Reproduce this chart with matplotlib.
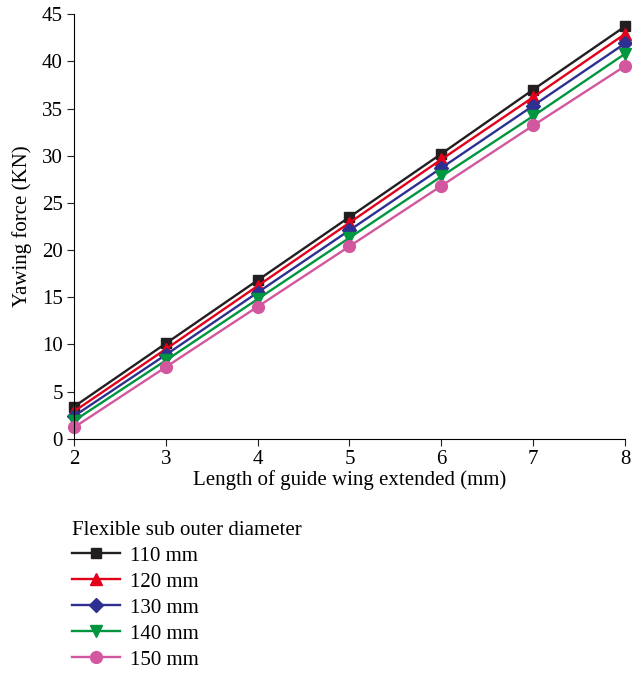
import matplotlib.pyplot as plt

plt.rcParams['font.family'] = ['Liberation Serif', 'DejaVu Serif']

lengths = [2, 3, 4, 5, 6, 7, 8]
force_110 = [3.4, 10.1, 16.8, 23.5, 30.2, 37.0, 43.7]
force_120 = [2.9, 9.5, 16.2, 22.9, 29.6, 36.2, 42.9]
force_130 = [2.4, 8.9, 15.5, 22.1, 28.7, 35.3, 41.9]
force_140 = [1.9, 8.3, 14.8, 21.3, 27.8, 34.2, 40.8]
force_150 = [1.2, 7.6, 14.0, 20.4, 26.8, 33.2, 39.5]
labels = ["110 mm", "120 mm", "130 mm", "140 mm", "150 mm"]

series = [force_110, force_120, force_130, force_140, force_150]
colors = ['#231f20', '#e3001b', '#2e3091', '#00963f', '#d2579e']
markers = ['s', '^', 'D', 'v', 'o']
msizes = [7.5, 8.5, 7, 8.5, 8.5]

fig = plt.figure(figsize=(6.32, 6.73), dpi=100)
ax = fig.add_axes([0.117, 0.348, 0.872, 0.631])

for ys, c, m, ms, lab in zip(series, colors, markers, msizes, labels):
    ax.plot(lengths, ys, color=c, marker=m, markersize=ms, linewidth=1.7,
            label=lab, clip_on=False)

ax.set_xlim(2, 8)
ax.set_ylim(0, 45)
ax.set_xticks(range(2, 9))
ax.set_yticks(range(0, 46, 5))
ax.spines['top'].set_visible(False)
ax.spines['right'].set_visible(False)
ax.tick_params(labelsize=15, direction='out', length=5, color='#231f20', pad=3)
ax.set_xlabel("Length of guide wing extended (mm)", fontsize=15, labelpad=1)
ax.set_ylabel("Yawing force (KN)", fontsize=15, labelpad=7)

leg = fig.legend(loc='upper left', bbox_to_anchor=(0.114, 0.2265), frameon=False,
                 title="Flexible sub outer diameter", fontsize=15, title_fontsize=15,
                 handlelength=2.3, handletextpad=0.5, labelspacing=0.31,
                 markerscale=1.0, borderaxespad=0, borderpad=0)
leg._legend_box.align = 'left'

fig.savefig("out.png", dpi=100)
